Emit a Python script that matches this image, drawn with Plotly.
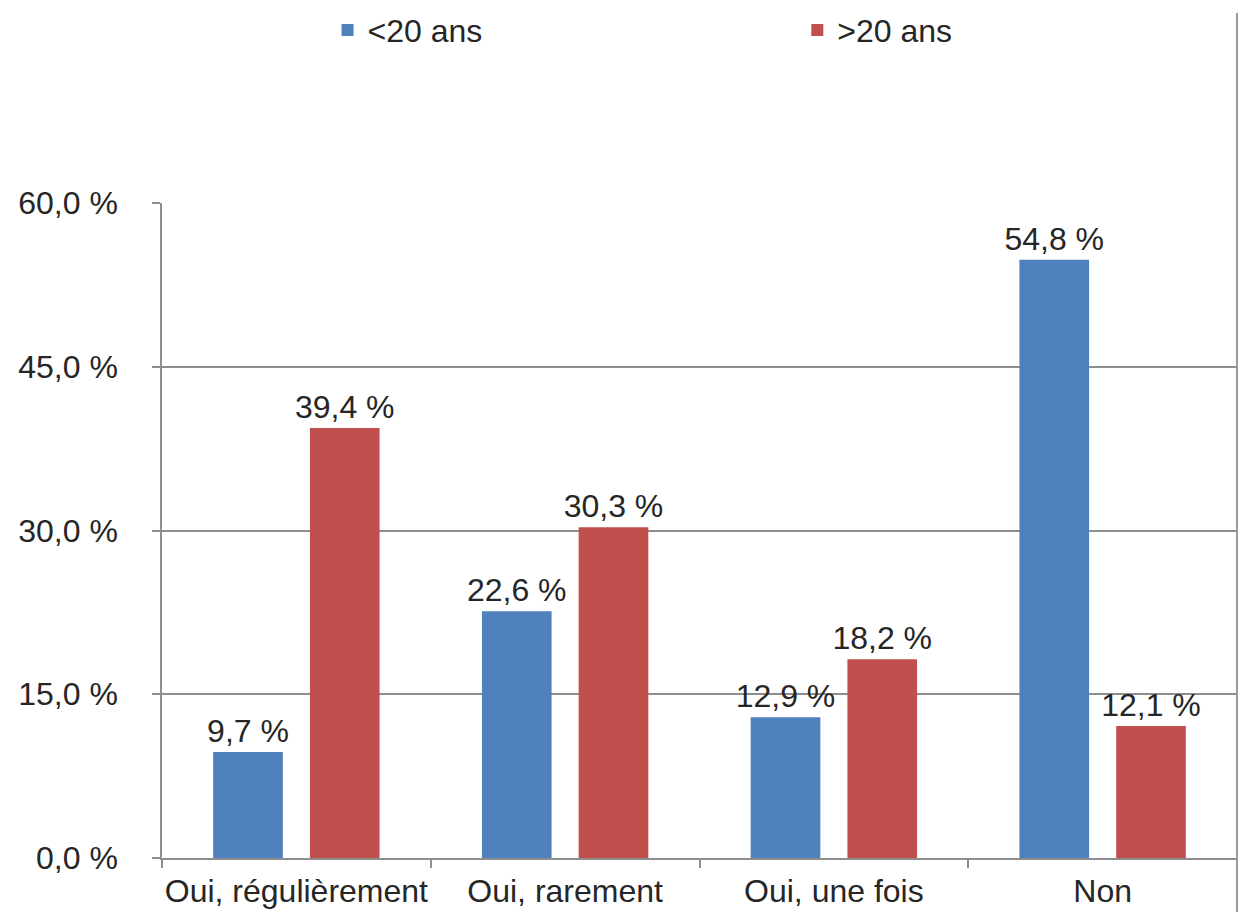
import plotly.graph_objects as go

# Survey answers by age group
categories = ["Oui, régulièrement", "Oui, rarement", "Oui, une fois", "Non"]
under_20 = [9.7, 22.6, 12.9, 54.8]
over_20 = [39.4, 30.3, 18.2, 12.1]
series_names = ["<20 ans", ">20 ans"]
y_ticks = [0, 15, 30, 45, 60]
y_tick_labels = ["0,0 %", "15,0 %", "30,0 %", "45,0 %", "60,0 %"]

FONT = "Liberation Sans, Arial, Helvetica, sans-serif"
TEXT_COLOR = "#262626"
GRID_COLOR = "#8e8e8e"
FS = 32

fig = go.Figure()
for name, values, color, legend_id in [
    (series_names[0], under_20, "#4F81BD", "legend"),
    (series_names[1], over_20, "#C0504D", "legend2"),
]:
    fig.add_trace(
        go.Bar(
            x=categories,
            y=values,
            name=name,
            legend=legend_id,
            marker=dict(color=color, line=dict(width=0)),
            text=values,
            texttemplate="%{y:.1f} %",
            textposition="outside",
            constraintext="none",
            cliponaxis=False,
            textfont=dict(family=FONT, size=FS, color=TEXT_COLOR),
        )
    )

legend_style = dict(
    orientation="h",
    xanchor="left",
    yanchor="middle",
    y=1.264,
    font=dict(family=FONT, size=FS, color=TEXT_COLOR),
    bgcolor="rgba(0,0,0,0)",
    borderwidth=0,
)

fig.update_layout(
    width=1243,
    height=912,
    margin=dict(l=162, r=6, t=203, b=54, autoexpand=False),
    paper_bgcolor="white",
    plot_bgcolor="white",
    separators=", ",
    barmode="group",
    bargap=0.28,
    bargroupgap=0.28,
    font=dict(family=FONT, size=FS, color=TEXT_COLOR),
    legend=dict(x=0.154, **legend_style),
    legend2=dict(x=0.591, **legend_style),
    showlegend=True,
)

fig.update_yaxes(
    range=[0, 60],
    tickvals=y_ticks,
    ticktext=y_tick_labels,
    showgrid=True,
    gridcolor=GRID_COLOR,
    gridwidth=1.5,
    zeroline=False,
    showline=True,
    linecolor=GRID_COLOR,
    linewidth=1.5,
    ticks="outside",
    ticklen=8,
    tickcolor=GRID_COLOR,
    tickwidth=1.5,
    ticklabelstandoff=28,
)

fig.update_xaxes(
    showline=True,
    linecolor=GRID_COLOR,
    linewidth=1.5,
    ticks="outside",
    tickson="boundaries",
    ticklen=8,
    tickcolor=GRID_COLOR,
    tickwidth=1.5,
    showgrid=False,
    tickangle=0,
    ticklabelstandoff=4,
)

# Right-hand frame line of the chart area
fig.add_shape(
    type="line",
    xref="paper",
    yref="paper",
    x0=1,
    x1=1,
    y0=-0.09,
    y1=1.29,
    line=dict(color="#9a9a9a", width=2),
)

fig.write_html("out.html")
